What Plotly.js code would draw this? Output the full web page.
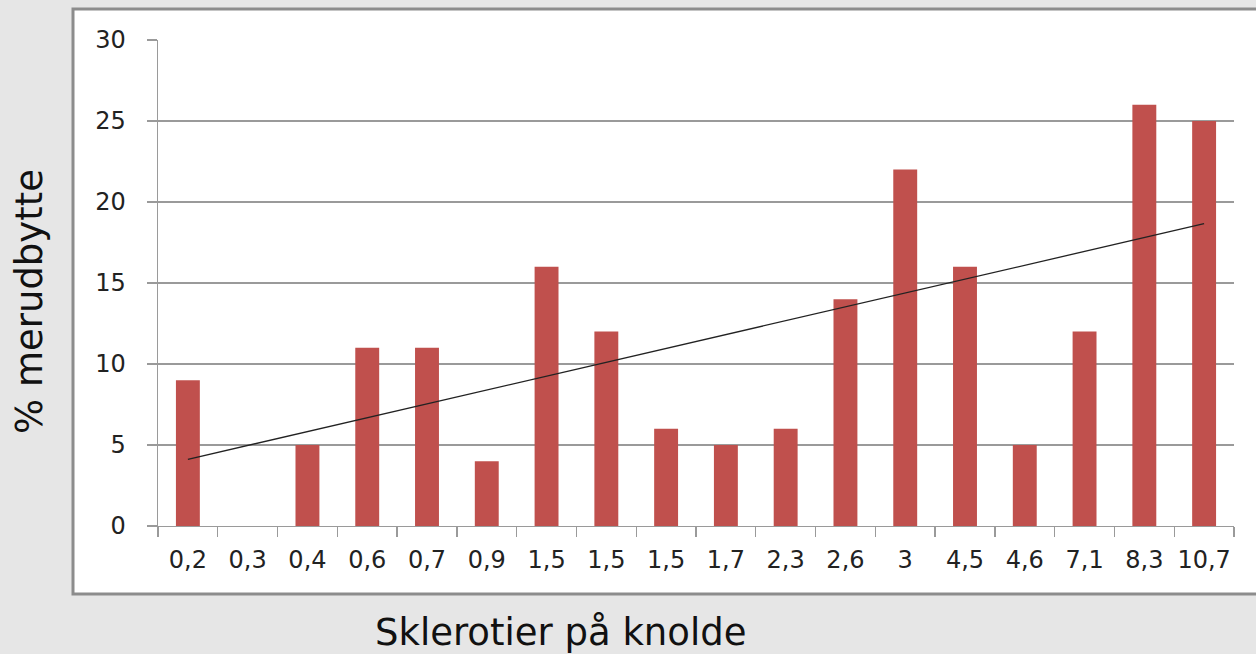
<!DOCTYPE html>
<html>
<head>
<meta charset="utf-8">
<script src="https://cdn.plot.ly/plotly-3.0.1.min.js"></script>
<style>html,body{margin:0;padding:0;background:#e6e6e6;}#chart{width:1256px;height:654px;}</style>
</head>
<body>
<div id="chart"></div>
<script>
// Data
const categories = ["0,2","0,3","0,4","0,6","0,7","0,9","1,5","1,5","1,5","1,7","2,3","2,6","3","4,5","4,6","7,1","8,3","10,7"];
const merudbytte = [9, 0, 5, 11, 11, 4, 16, 12, 6, 5, 6, 14, 22, 16, 5, 12, 26, 25];
const yTicks = [0, 5, 10, 15, 20, 25, 30];
const xTitle = "Sklerotier på knolde";
const yTitle = "% merudbytte";

const idx = categories.map((_, i) => i);

// Linear trendline (least squares) through the bar values
const n = merudbytte.length;
const mx = idx.reduce((a, b) => a + b, 0) / n;
const my = merudbytte.reduce((a, b) => a + b, 0) / n;
let sxy = 0, sxx = 0;
idx.forEach((x, i) => { sxy += (x - mx) * (merudbytte[i] - my); sxx += (x - mx) * (x - mx); });
const slope = sxy / sxx, icpt = my - slope * mx;
const trendX = [idx[0], idx[n - 1]];
const trendY = trendX.map(x => icpt + slope * x);

const boundaries = [];
for (let i = 0; i <= n; i++) boundaries.push(i - 0.5);

const W = 1256, H = 654;
const L = 158, R = 22, T = 40, B = 128;
const pw = W - L - R, ph = H - T - B;
const px = v => (v - L) / pw;
const py = v => (H - B - v) / ph;

const data = [
  { type: 'bar', x: idx, y: merudbytte, marker: { color: '#c0504d' }, hoverinfo: 'x+y' },
  { type: 'scatter', mode: 'lines', x: trendX, y: trendY, line: { color: '#222222', width: 1.3 }, hoverinfo: 'skip' }
];

const layout = {
  width: W, height: H,
  margin: { l: L, r: R, t: T, b: B, pad: 0 },
  paper_bgcolor: '#e6e6e6',
  plot_bgcolor: '#ffffff',
  showlegend: false,
  bargap: 0.6,
  font: { family: 'DejaVu Sans, Verdana, sans-serif', color: '#222222' },
  xaxis: {
    range: [-0.5, n - 0.5],
    tickmode: 'array', tickvals: idx, ticktext: categories,
    ticks: '', showgrid: false, zeroline: false,
    showline: true, linecolor: '#9a9a9a', linewidth: 1.3,
    tickfont: { size: 24, color: '#222222' },
    ticklabelstandoff: 12,
    minor: { tickmode: 'array', tickvals: boundaries, ticks: 'outside', ticklen: 10, tickcolor: '#9a9a9a', tickwidth: 1.3, showgrid: false },
    fixedrange: true
  },
  yaxis: {
    range: [0, 30], tickmode: 'array', tickvals: yTicks,
    ticks: 'outside', ticklen: 10, tickcolor: '#9a9a9a', tickwidth: 1.3,
    showgrid: true, gridcolor: '#9a9a9a', gridwidth: 1.3,
    zeroline: false, showline: true, linecolor: '#9a9a9a', linewidth: 1.3,
    tickfont: { size: 24, color: '#222222' },
    ticklabelstandoff: 16,
    fixedrange: true
  },
  shapes: [
    { type: 'rect', xref: 'paper', yref: 'paper', layer: 'below',
      x0: px(73), x1: px(1275), y0: py(594), y1: py(9),
      fillcolor: '#ffffff', line: { color: '#8c8c8c', width: 3 } }
  ],
  annotations: [
    { text: xTitle, xref: 'paper', yref: 'paper', x: px(560), y: py(632), xanchor: 'center', yanchor: 'middle', showarrow: false, font: { size: 37, color: '#111111' } },
    { text: yTitle, xref: 'paper', yref: 'paper', x: px(29), y: py(302), xanchor: 'center', yanchor: 'middle', textangle: -90, showarrow: false, font: { size: 37, color: '#111111' } }
  ]
};

Plotly.newPlot('chart', data, layout, { displayModeBar: false, staticPlot: true });
</script>
</body>
</html>
